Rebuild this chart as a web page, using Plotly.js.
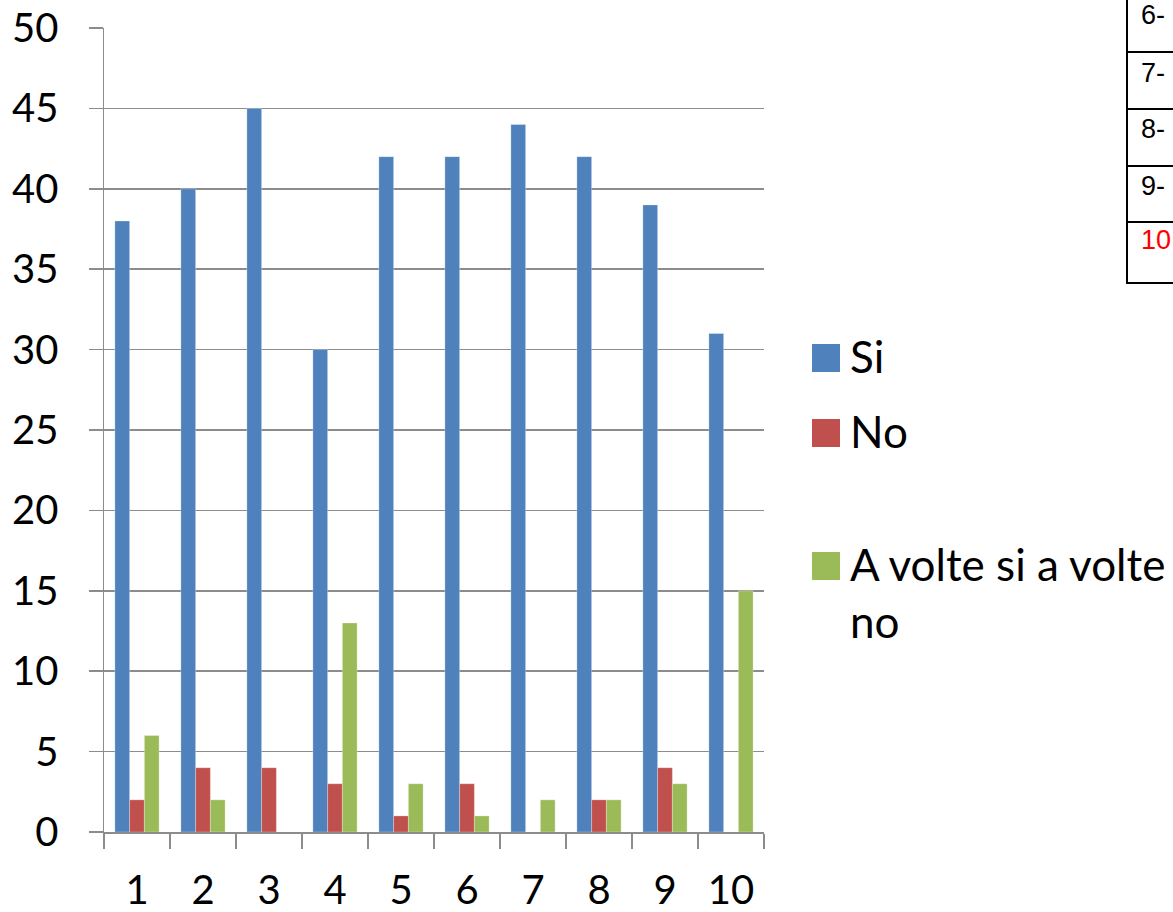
<!DOCTYPE html>
<html>
<head>
<meta charset="utf-8">
<script src="https://cdn.plot.ly/plotly-3.0.1.min.js"></script>
<style>html,body{margin:0;padding:0;background:#fff;}#chart{width:1173px;height:912px;}</style>
</head>
<body>
<div id="chart"></div>
<script>
// ---- data ----
const categories = ["1","2","3","4","5","6","7","8","9","10"];
const seriesNames = ["Si", "No", "A volte si a volte<br>no"];
const siValues = [38, 40, 45, 30, 42, 42, 44, 42, 39, 31];
const noValues = [2, 4, 4, 3, 1, 3, 0, 2, 4, 0];
const avolteValues = [6, 2, 0, 13, 3, 1, 2, 2, 3, 15];
const seriesColors = ["#4F81BD", "#C0504D", "#9BBB59"];
const tableLabels = ["6-", "7-", "8-", "9-", "10"];
const tableColors = ["#000", "#000", "#000", "#000", "#ff0000"];

// ---- layout geometry (pixels) ----
const W = 1173, H = 912;
const L = 104, R = 764, T = 28, B = 832;
const pw = R - L, ph = B - T;
const px = x => (x - L) / pw;
const py = y => (B - y) / ph;

const font = "Lato, 'Open Sans', sans-serif";
const grid = "#8c8c8c";

const values = [siValues, noValues, avolteValues];
const traces = values.map((v, i) => ({
  type: "bar",
  x: categories,
  y: v,
  name: seriesNames[i],
  marker: {color: seriesColors[i], line: {color: "rgba(255,255,255,0.35)", width: 0.8}},
  showlegend: false,
  hoverinfo: "x+y+name"
}));

const shapes = [];
const annotations = [];

// manual legend (marker centre y in px)
const legendY = [358, 433, 566];
seriesNames.forEach((n, i) => {
  shapes.push({type: "rect", xref: "paper", yref: "paper",
    x0: px(812), x1: px(840), y0: py(legendY[i] + 14), y1: py(legendY[i] - 14),
    fillcolor: seriesColors[i], line: {width: 0}});
  annotations.push({xref: "paper", yref: "paper", x: px(848), y: py(legendY[i] - 30),
    xanchor: "left", yanchor: "top", align: "left", showarrow: false,
    text: n, font: {family: font, size: 44, color: "#000"}});
});

// table fragment at top right
const rowLines = [52, 109, 166, 222, 283];
const rowText = [15, 73, 129, 186, 240];
shapes.push({type: "line", xref: "paper", yref: "paper",
  x0: px(1127), x1: px(1127), y0: py(-5), y1: py(284), line: {color: "#000", width: 2}});
rowLines.forEach(y => shapes.push({type: "line", xref: "paper", yref: "paper",
  x0: px(1126), x1: px(1180), y0: py(y), y1: py(y), line: {color: "#000", width: 2}}));
tableLabels.forEach((t, i) => annotations.push({xref: "paper", yref: "paper",
  x: px(1139), y: py(rowText[i]), xanchor: "left", yanchor: "middle", showarrow: false,
  text: t, font: {family: "Arial, 'Liberation Sans', sans-serif", size: 27, color: tableColors[i]}}));

const layout = {
  width: W, height: H,
  margin: {l: L, r: W - R, t: T, b: H - B, pad: 0},
  paper_bgcolor: "#fff", plot_bgcolor: "#fff",
  barmode: "group",
  bargap: 0.33, bargroupgap: 0,
  showlegend: false,
  font: {family: font, color: "#000"},
  xaxis: {
    type: "category", range: [-0.5, 9.5],
    showgrid: false, zeroline: false,
    showline: true, linecolor: grid, linewidth: 1.5,
    ticks: "outside", tickson: "boundaries", ticklen: 15, tickcolor: grid, tickwidth: 1.5,
    tickfont: {family: font, size: 40, color: "#000"},
    ticklabelstandoff: 22
  },
  yaxis: {
    range: [0, 50], dtick: 5, tick0: 0,
    showgrid: true, gridcolor: grid, gridwidth: 1.5,
    zeroline: false,
    showline: true, linecolor: grid, linewidth: 1.5,
    ticks: "outside", ticklen: 14, tickcolor: grid, tickwidth: 1.5,
    tickfont: {family: font, size: 40, color: "#000"},
    ticklabelstandoff: 22
  },
  shapes: shapes,
  annotations: annotations
};

Plotly.newPlot("chart", traces, layout, {displayModeBar: false, staticPlot: true});
</script>
</body>
</html>
